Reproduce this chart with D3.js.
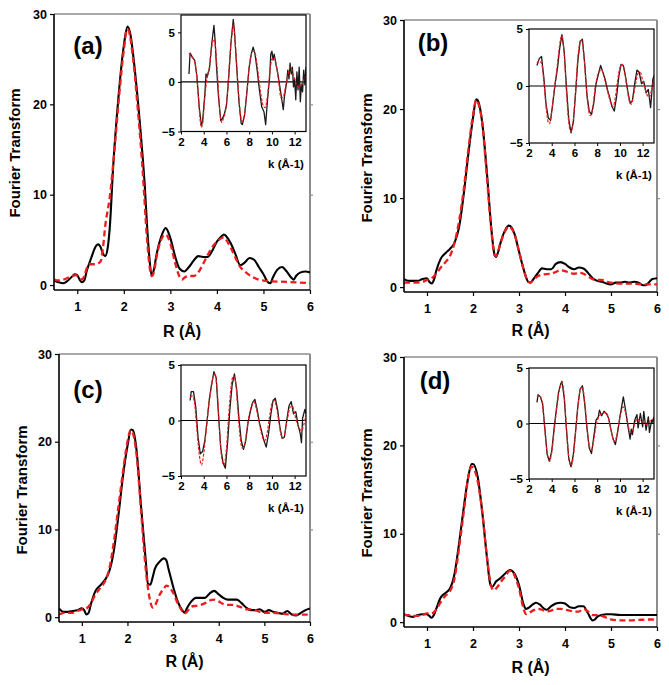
<!DOCTYPE html>
<html><head><meta charset="utf-8">
<script src="https://cdn.jsdelivr.net/npm/d3@7"></script>
<style>
body{margin:0;background:#fff}
svg{display:block}
text{font-family:Arial,"Liberation Sans",sans-serif;font-weight:bold;fill:#000}
</style>
</head><body>
<svg id="chart" width="669" height="685"></svg>
<script>
// ---------------- DATA ----------------
const rTicks = [1,2,3,4,5,6];
const ftTicks = [0,10,20,30];
const kTicks = [2,4,6,8,10,12];
const chiTicks = [-5,0,5];
const panelLabels = ["(a)","(b)","(c)","(d)"];
const xTitle = "R (\u00C5)";
const yTitle = "Fourier Transform";
const kTitle = "k (\u00C5-1)";

// Panel (a) main: experiment (solid black) and fit (dashed red)
const aExpR = [0.5,0.6,0.7,0.8,0.9,0.95,1.0,1.05,1.1,1.15,1.2,1.3,1.4,1.45,1.5,1.55,1.6,1.65,1.7,1.77,1.88,2.0,2.08,2.15,2.2,2.3,2.4,2.45,2.5,2.55,2.6,2.65,2.7,2.8,2.9,3.0,3.1,3.2,3.3,3.4,3.5,3.6,3.7,3.8,3.9,4.0,4.1,4.15,4.2,4.3,4.4,4.5,4.6,4.7,4.8,4.9,5.0,5.1,5.15,5.2,5.3,5.4,5.5,5.6,5.65,5.7,5.8,5.9,6.0];
const aExpY = [0.5,0.3,0.2,0.5,1.0,1.2,1.1,0.6,0.3,0.5,1.5,3.0,4.3,4.5,4.2,3.5,3.2,4.0,6.5,13,20.5,26.5,28.6,27.5,25.5,20.5,14.5,11,6.5,3,1.0,1.8,3.3,5.3,6.3,5.2,3.2,1.8,1.5,2.0,2.7,3.2,3.1,3.1,3.8,4.8,5.4,5.6,5.4,4.6,3.4,2.2,2.5,3.0,2.8,2.0,1.2,0.3,0.2,0.8,1.7,2.0,1.5,0.8,0.6,1.0,1.4,1.5,1.4];
const aFitR = [0.5,0.6,0.7,0.8,0.9,0.97,1.05,1.1,1.15,1.2,1.25,1.3,1.4,1.5,1.55,1.6,1.7,1.8,1.9,2.0,2.07,2.1,2.2,2.3,2.4,2.5,2.55,2.6,2.65,2.7,2.8,2.9,3.0,3.1,3.2,3.25,3.3,3.4,3.5,3.6,3.7,3.8,3.9,4.0,4.1,4.15,4.2,4.3,4.4,4.5,4.6,4.7,4.8,4.9,5.0,5.2,5.5,6.0];
const aFitY = [0.6,0.5,0.6,0.8,1.0,1.1,0.8,0.6,1.0,1.8,2.3,2.3,2.3,2.6,4,6.5,9.8,15,21,26,28.3,28.2,25,19.5,13,5,2.2,1.0,1.5,3,5,5.6,4.6,2.5,0.9,0.6,0.8,1.0,1.0,1.4,2.3,3.3,4.2,4.8,5.2,5.3,5.0,4.1,3.0,2.0,1.5,1.1,0.8,0.6,0.5,0.4,0.35,0.2];

// Panel (b)
const bExpR = [0.5,0.6,0.7,0.8,0.9,1.0,1.05,1.1,1.15,1.2,1.3,1.4,1.5,1.6,1.7,1.8,1.9,2.0,2.07,2.1,2.2,2.3,2.4,2.47,2.5,2.55,2.6,2.7,2.78,2.85,2.9,3.0,3.1,3.2,3.25,3.3,3.4,3.5,3.6,3.7,3.8,3.9,4.0,4.1,4.2,4.3,4.4,4.5,4.6,4.7,4.8,4.9,5.0,5.1,5.2,5.3,5.4,5.5,5.6,5.7,5.75,5.8,5.9,6.0];
const bExpY = [0.9,0.7,0.7,0.7,0.9,1.0,0.6,0.4,0.8,1.8,3.2,3.8,4.3,5.0,6.8,10.5,15,19,21.1,21,18.5,13,6.5,3.6,3.4,4.0,5.0,6.4,6.9,6.6,6,4,2,0.6,0.5,0.8,1.5,2.1,2.0,2.0,2.6,2.8,2.6,2.2,2.0,2.2,2.1,1.6,1.0,0.7,0.6,0.4,0.3,0.5,0.5,0.6,0.5,0.6,0.5,0.2,0.2,0.4,0.9,1.0];
const bFitR = [0.5,0.7,0.9,1.0,1.1,1.2,1.3,1.4,1.5,1.6,1.7,1.8,1.9,2.0,2.07,2.1,2.2,2.3,2.4,2.47,2.5,2.6,2.7,2.78,2.85,2.9,3.0,3.1,3.2,3.25,3.3,3.4,3.5,3.7,3.8,3.9,4.0,4.1,4.2,4.3,4.4,4.5,4.6,4.7,4.8,4.9,5.0,5.2,5.4,5.6,5.8,6.0];
const bFitY = [0.5,0.5,0.6,0.8,1.0,1.5,2.2,2.8,3.5,5.0,7.5,11,15.5,19.3,21,20.8,18.5,12.5,6.3,3.6,3.5,5,6.3,6.8,6.5,6,4,2,0.6,0.5,0.7,1.2,1.4,1.5,1.7,1.9,1.8,1.6,1.5,1.6,1.5,1.2,0.9,0.8,0.8,0.6,0.5,0.4,0.4,0.35,0.3,0.3];

// Panel (c)
const cExpR = [0.5,0.6,0.7,0.8,0.9,1.0,1.05,1.1,1.15,1.2,1.3,1.4,1.5,1.6,1.7,1.8,1.9,2.0,2.08,2.12,2.2,2.3,2.4,2.45,2.5,2.55,2.6,2.7,2.8,2.85,2.9,3.0,3.1,3.2,3.25,3.3,3.4,3.5,3.6,3.7,3.8,3.9,4.0,4.1,4.2,4.3,4.4,4.5,4.6,4.7,4.8,4.9,5.0,5.1,5.2,5.3,5.4,5.5,5.6,5.7,5.8,5.9,6.0];
const cExpY = [1.0,0.6,0.6,0.7,0.8,1.0,0.8,0.3,0.5,1.5,3.0,3.6,4.2,5.2,7.5,11.5,16,19.5,21.4,21.3,19,12.5,6.5,3.8,3.7,4.5,5.5,6.3,6.7,6.5,5.5,3.5,1.8,0.8,0.5,1.0,1.8,2.2,2.2,2.2,2.7,3.0,2.6,2.2,2.0,2.0,2.0,1.6,1.1,0.8,0.8,0.9,0.6,0.8,0.6,0.5,0.4,0.7,0.3,0.2,0.5,0.8,1.0];
const cFitR = [0.5,0.6,0.8,0.9,1.0,1.1,1.2,1.3,1.4,1.5,1.6,1.7,1.8,1.9,2.0,2.07,2.1,2.2,2.3,2.4,2.5,2.55,2.6,2.7,2.8,2.85,2.9,3.0,3.1,3.2,3.25,3.3,3.4,3.5,3.6,3.7,3.8,3.9,4.0,4.1,4.2,4.3,4.4,4.5,4.6,4.7,4.8,4.9,5.0,5.2,5.4,5.6,5.8,6.0];
const cFitY = [0.3,0.5,0.5,0.7,0.9,1.0,1.6,2.6,3.3,4.0,5.5,8.5,12.5,16.5,20,21.3,21.2,18.5,12,5.5,1.8,1.1,1.3,2.5,3.3,3.6,3.5,2.8,1.6,0.7,0.4,0.6,1.2,1.3,1.4,1.6,1.9,2.0,1.8,1.5,1.4,1.4,1.3,1.1,0.9,0.9,0.8,0.6,0.5,0.5,0.4,0.3,0.3,0.3];

// Panel (d)
const dExpR = [0.5,0.6,0.7,0.8,0.9,1.0,1.05,1.1,1.15,1.2,1.3,1.4,1.5,1.6,1.7,1.8,1.9,1.97,2.0,2.1,2.2,2.3,2.38,2.42,2.5,2.6,2.7,2.8,2.9,3.0,3.1,3.15,3.2,3.3,3.37,3.45,3.55,3.6,3.7,3.8,3.9,4.0,4.1,4.2,4.3,4.4,4.5,4.6,4.65,4.7,4.8,4.9,5.0,5.2,5.4,5.6,5.8,5.9,6.0];
const dExpY = [0.9,0.7,0.6,0.8,0.9,0.9,0.7,0.5,0.8,1.5,2.8,3.3,3.8,5.5,9,13,16.5,17.9,17.9,16.5,12.5,7.5,4.2,4.0,4.6,5.0,5.5,5.9,5.5,4.2,2.0,1.5,1.6,2.0,2.2,2.0,1.5,1.4,1.8,2.1,2.2,2.1,1.7,1.6,1.8,1.8,1.0,0.2,0.3,0.6,0.8,0.9,0.9,0.8,0.8,0.8,0.8,0.8,0.8];
const dFitR = [0.5,0.6,0.7,0.8,0.9,1.0,1.1,1.2,1.3,1.4,1.5,1.6,1.7,1.8,1.9,1.97,2.0,2.1,2.2,2.3,2.4,2.45,2.5,2.6,2.7,2.8,2.85,2.9,3.0,3.1,3.15,3.2,3.3,3.4,3.5,3.6,3.7,3.8,3.9,4.0,4.1,4.2,4.3,4.4,4.5,4.6,4.7,4.8,4.9,5.0,5.2,5.4,5.6,5.8,6.0];
const dFitY = [0.8,0.8,0.7,0.7,0.8,1.0,1.0,1.4,2.3,3.0,3.5,5.0,8.5,12.5,16.5,17.6,17.5,16,12.5,7.5,4.0,3.6,3.8,4.5,5.2,5.8,5.8,5.3,3.8,1.5,0.9,1.0,1.3,1.5,1.4,1.2,1.3,1.5,1.5,1.4,1.3,1.2,1.2,1.5,1.2,0.8,0.8,0.7,0.5,0.3,0.2,0.2,0.25,0.3,0.3];

// Insets: k-space EXAFS [k, chi] — experiment (black) and fit (red dashed)
const aKExp = [[2.7,0.8],[2.8,2.9],[3.0,2.5],[3.2,2.2],[3.4,0.6],[3.6,-2.5],[3.8,-4.4],[3.9,-4.0],[4.1,-1.2],[4.2,0.8],[4.3,0.5],[4.5,1.3],[4.7,3.8],[4.9,5.7],[5.0,4.2],[5.1,2.0],[5.3,-1.5],[5.5,-3.9],[5.6,-3.8],[5.8,-3.3],[6.0,-2.4],[6.2,0.5],[6.4,4.0],[6.6,6.3],[6.7,5.2],[6.9,1.5],[7.1,-2.0],[7.3,-4.2],[7.4,-4.3],[7.6,-3.3],[7.8,-1.0],[8.0,1.5],[8.2,2.9],[8.35,3.5],[8.5,2.9],[8.7,1.2],[8.9,-0.8],[9.1,-2.5],[9.3,-3.0],[9.45,-4.3],[9.6,-2.0],[9.8,0.5],[9.9,2.8],[10.0,3.1],[10.1,2.2],[10.2,2.8],[10.35,1.8],[10.5,1.0],[10.7,-0.5],[10.9,-2.0],[11.0,-2.8],[11.1,-1.5],[11.3,0.0],[11.4,1.2],[11.5,0.3],[11.6,1.9],[11.7,0.8],[11.8,1.5],[11.9,-0.5],[12.0,0.3],[12.1,-1.8],[12.2,1.0],[12.3,-0.8],[12.4,1.5],[12.5,-2.0],[12.6,-0.2],[12.7,-1.0],[12.8,1.2],[12.9,-0.3],[13.0,1.5]];
const aKFit = [[2.7,2.9],[2.9,2.6],[3.1,2.3],[3.3,1.5],[3.5,-1.0],[3.7,-4.0],[3.8,-4.6],[3.9,-4.2],[4.1,-1.5],[4.3,0.5],[4.5,1.5],[4.7,3.5],[4.9,4.3],[5.0,3.8],[5.2,1.0],[5.4,-2.8],[5.6,-4.1],[5.7,-3.8],[5.9,-3.0],[6.1,-1.0],[6.3,2.5],[6.5,5.0],[6.6,5.8],[6.8,3.5],[7.0,0.0],[7.2,-3.0],[7.4,-4.0],[7.6,-3.2],[7.8,-1.0],[8.0,1.5],[8.2,2.8],[8.4,3.1],[8.6,2.5],[8.8,0.8],[9.0,-1.0],[9.2,-2.3],[9.4,-2.6],[9.6,-1.5],[9.8,0.8],[10.0,2.3],[10.2,2.5],[10.4,1.6],[10.6,0.0],[10.8,-1.6],[11.0,-1.5],[11.2,-0.5],[11.4,0.6],[11.6,1.5],[11.8,1.0],[12.0,0.3],[12.2,-0.4],[12.4,-0.5],[12.6,-0.3],[12.8,0.2],[13.0,0.6]];

const bKExp = [[2.7,1.8],[2.9,2.4],[3.1,2.6],[3.3,0.8],[3.5,-1.6],[3.7,-2.8],[3.9,-3.0],[4.1,-1.5],[4.3,0.2],[4.5,1.5],[4.7,3.3],[4.9,4.5],[5.1,3.0],[5.3,-0.2],[5.5,-2.9],[5.7,-4.1],[5.9,-3.2],[6.1,-0.6],[6.3,2.2],[6.5,3.9],[6.7,4.1],[6.9,2.0],[7.1,-0.8],[7.3,-2.2],[7.5,-2.5],[7.7,-1.5],[7.9,0.2],[8.1,1.0],[8.3,1.8],[8.5,1.2],[8.7,0.6],[8.9,-0.3],[9.1,-1.0],[9.3,-1.8],[9.5,-2.2],[9.7,-1.0],[9.9,0.8],[10.1,1.9],[10.3,1.8],[10.5,0.8],[10.7,-0.5],[10.9,-1.5],[11.1,-1.3],[11.3,0.2],[11.5,1.4],[11.7,1.2],[11.9,0.2],[12.1,0.4],[12.3,-0.6],[12.5,-0.3],[12.7,-1.9],[12.9,0.6],[13.0,0.9]];
const bKFit = [[2.7,2.0],[2.9,2.2],[3.1,2.0],[3.3,0.5],[3.5,-1.8],[3.7,-3.2],[3.8,-3.3],[4.0,-2.2],[4.2,-0.5],[4.4,1.0],[4.6,2.8],[4.8,4.2],[4.9,4.4],[5.1,2.8],[5.3,-0.5],[5.5,-3.2],[5.7,-4.0],[5.9,-3.0],[6.1,-0.5],[6.3,2.5],[6.5,3.9],[6.6,4.1],[6.8,3.0],[7.0,0.5],[7.2,-1.8],[7.4,-2.6],[7.6,-2.0],[7.8,-0.3],[8.0,0.8],[8.2,1.3],[8.4,1.4],[8.6,0.8],[8.8,0.0],[9.0,-0.8],[9.2,-1.5],[9.4,-1.8],[9.6,-1.0],[9.8,0.5],[10.0,1.6],[10.2,1.9],[10.4,1.3],[10.6,0.0],[10.8,-1.2],[11.0,-1.6],[11.2,-0.8],[11.4,0.3],[11.6,1.1],[11.8,1.2],[12.0,0.5],[12.2,-0.2],[12.4,-0.8],[12.6,-1.0],[12.8,-0.3],[13.0,0.7]];

const cKExp = [[2.8,1.8],[2.9,2.6],[3.1,2.6],[3.3,1.2],[3.5,-1.5],[3.7,-3.0],[3.9,-2.8],[4.1,-1.8],[4.3,0.0],[4.5,2.0],[4.7,3.3],[4.9,4.4],[5.1,3.8],[5.3,0.5],[5.5,-2.5],[5.7,-3.8],[5.9,-4.3],[6.1,-2.0],[6.3,1.0],[6.5,3.2],[6.7,4.2],[6.9,2.8],[7.1,0.2],[7.3,-1.8],[7.5,-2.6],[7.7,-1.8],[7.9,-0.2],[8.1,0.8],[8.3,1.6],[8.5,1.9],[8.7,1.0],[8.9,-0.2],[9.1,-1.0],[9.3,-1.8],[9.5,-2.4],[9.7,-1.2],[9.9,0.5],[10.1,1.8],[10.3,2.0],[10.5,1.0],[10.7,-0.6],[10.9,-1.6],[11.1,-1.5],[11.3,0.0],[11.5,1.3],[11.7,1.7],[11.9,0.6],[12.1,0.8],[12.3,-0.4],[12.5,-1.2],[12.6,-2.0],[12.7,0.2],[12.9,1.0],[13.0,0.6]];
const cKFit = [[2.8,2.1],[3.0,2.2],[3.2,1.5],[3.4,-0.8],[3.6,-3.0],[3.8,-4.0],[4.0,-3.0],[4.2,-1.0],[4.4,1.0],[4.6,2.5],[4.8,3.8],[5.0,4.2],[5.2,2.5],[5.4,-1.0],[5.6,-3.5],[5.8,-4.0],[6.0,-2.5],[6.2,0.5],[6.4,3.0],[6.6,4.0],[6.8,3.5],[7.0,1.0],[7.2,-1.5],[7.4,-2.5],[7.6,-2.2],[7.8,-0.8],[8.0,0.5],[8.2,1.3],[8.4,1.7],[8.6,1.2],[8.8,0.2],[9.0,-0.8],[9.2,-1.6],[9.4,-1.8],[9.6,-1.0],[9.8,0.4],[10.0,1.5],[10.2,1.8],[10.4,1.2],[10.6,0.0],[10.8,-1.3],[11.0,-1.6],[11.2,-0.8],[11.4,0.3],[11.6,1.2],[11.8,1.3],[12.0,0.6],[12.2,-0.2],[12.4,-0.7],[12.6,-0.9],[12.8,-0.4],[13.0,0.5]];

const dKExp = [[2.7,1.9],[2.8,2.6],[3.0,2.4],[3.2,1.8],[3.4,-0.5],[3.6,-2.8],[3.8,-3.4],[4.0,-2.5],[4.2,-0.5],[4.4,1.2],[4.6,2.8],[4.8,3.6],[4.9,3.8],[5.1,2.3],[5.3,-0.6],[5.5,-3.2],[5.7,-3.9],[5.9,-2.8],[6.1,-0.7],[6.3,1.6],[6.5,3.1],[6.7,3.4],[6.9,1.8],[7.1,-0.4],[7.3,-2.2],[7.5,-2.7],[7.7,-1.2],[7.9,0.3],[8.1,0.6],[8.2,1.2],[8.4,0.7],[8.6,1.1],[8.8,0.9],[9.0,0.5],[9.2,-0.5],[9.4,-1.4],[9.6,-1.9],[9.8,-0.8],[10.0,0.6],[10.2,1.8],[10.3,2.4],[10.5,1.2],[10.7,-0.2],[10.9,-1.4],[11.0,-0.5],[11.1,-1.0],[11.3,0.3],[11.5,0.8],[11.6,-0.4],[11.8,0.9],[12.0,-0.3],[12.1,1.1],[12.3,-0.6],[12.5,0.6],[12.6,-0.8],[12.8,0.3],[12.9,0.1],[13.0,0.6]];
const dKFit = [[2.7,2.4],[2.9,2.5],[3.1,2.2],[3.3,0.5],[3.5,-1.8],[3.7,-3.2],[3.8,-3.4],[4.0,-2.6],[4.2,-0.8],[4.4,1.0],[4.6,2.6],[4.8,3.5],[4.9,3.7],[5.1,2.5],[5.3,-0.5],[5.5,-3.0],[5.7,-3.8],[5.9,-3.0],[6.1,-0.8],[6.3,1.5],[6.5,3.0],[6.7,3.3],[6.9,2.0],[7.1,-0.3],[7.3,-2.0],[7.5,-2.4],[7.7,-1.5],[7.9,-0.2],[8.1,0.5],[8.3,0.8],[8.5,0.9],[8.7,1.0],[8.9,0.8],[9.1,0.0],[9.3,-1.0],[9.5,-1.6],[9.7,-1.2],[9.9,0.0],[10.1,1.0],[10.3,1.5],[10.5,1.0],[10.7,0.0],[10.9,-0.8],[11.1,-0.7],[11.3,0.0],[11.5,0.4],[11.7,0.3],[11.9,0.2],[12.1,0.1],[12.3,-0.1],[12.5,0.0],[12.7,0.3],[12.9,0.4],[13.0,0.5]];

// ---------------- LAYOUT ----------------
const panels = [
  {label:panelLabels[0], box:[54,310,14,290],  lab:[88,54],  ytl:[15,153],  xtlY:337, exp:[aExpR,aExpY], fit:[aFitR,aFitY],
   inset:{box:[181,306,15,131.5], ymax:6.75, exp:aKExp, fit:aKFit}},
  {label:panelLabels[1], box:[404,657,20,292], lab:[433,51],  ytl:[367,158], xtlY:336, exp:[bExpR,bExpY], fit:[bFitR,bFitY],
   inset:{box:[529,654,29,143], ymax:5, exp:bKExp, fit:bKFit}},
  {label:panelLabels[2], box:[59,310,354,622], lab:[88,398],  ytl:[22,490],  xtlY:667, exp:[cExpR,cExpY], fit:[cFitR,cFitY],
   inset:{box:[181,306,365,476], ymax:5, exp:cKExp, fit:cKFit}},
  {label:panelLabels[3], box:[404,657,357,627],lab:[435,389], ytl:[367,493], xtlY:673, exp:[dExpR,dExpY], fit:[dFitR,dFitY],
   inset:{box:[529,654,368,479], ymax:5, exp:dKExp, fit:dKFit}}
];

const svg = d3.select("#chart");
const FRAME_GRAY = "#8c8c8c";
const RED = "#ee1c1c";
const fmt = d3.format("d");
const FONT = "Arial, 'Liberation Sans', sans-serif";

panels.forEach((p, i) => {
  const [x0,x1,y0,y1] = p.box;
  const g = svg.append("g");
  const x = d3.scaleLinear().domain([0.5,6]).range([x0,x1]);
  const y = d3.scaleLinear().domain([-0.55,30]).range([y1,y0]);

  // frame: gray top/right
  g.append("line").attr("x1",x0).attr("x2",x1).attr("y1",y0).attr("y2",y0)
    .attr("stroke",FRAME_GRAY).attr("stroke-width",1.5);
  g.append("line").attr("x1",x1).attr("x2",x1).attr("y1",y0).attr("y2",y1)
    .attr("stroke",FRAME_GRAY).attr("stroke-width",2);
  const ra = g.append("g").attr("transform",`translate(${x1},0)`)
    .call(d3.axisRight(y).tickValues([10,20]).tickSize(3).tickSizeOuter(0).tickFormat(""));
  ra.select(".domain").remove();
  ra.selectAll("line").attr("stroke",FRAME_GRAY).attr("stroke-width",1.2);

  // clip
  const cid = "clip"+i;
  svg.append("clipPath").attr("id",cid).append("rect")
    .attr("x",x0).attr("y",y0).attr("width",x1-x0).attr("height",y1-y0);

  const line = d3.line().x(d=>x(d[0])).y(d=>y(d[1])).curve(d3.curveMonotoneX);
  const expPts = p.exp[0].map((r,j)=>[r,p.exp[1][j]]);
  const fitPts = p.fit[0].map((r,j)=>[r,p.fit[1][j]]);
  g.append("path").attr("clip-path",`url(#${cid})`).datum(expPts).attr("d",line)
    .attr("fill","none").attr("stroke","#000").attr("stroke-width",2.1).attr("stroke-linejoin","round");
  g.append("path").attr("clip-path",`url(#${cid})`).datum(fitPts).attr("d",line)
    .attr("fill","none").attr("stroke",RED).attr("stroke-width",2.3).attr("stroke-dasharray","6,3.5");

  // axes
  const la = g.append("g").attr("transform",`translate(${x0},0)`)
    .call(d3.axisLeft(y).tickValues(ftTicks).tickFormat(fmt).tickSize(4).tickSizeOuter(0).tickPadding(3));
  la.select(".domain").attr("stroke","#000").attr("stroke-width",1.6).attr("d",`M0,${y0}V${y1}`);
  la.selectAll(".tick line").attr("stroke","#000").attr("stroke-width",1.2);
  la.selectAll("text").attr("font-size",12.5).attr("font-family",FONT).attr("font-weight","bold");

  const ba = g.append("g").attr("transform",`translate(0,${y1})`)
    .call(d3.axisBottom(x).tickValues(rTicks).tickFormat(fmt).tickSize(4).tickSizeOuter(0).tickPadding(8));
  ba.select(".domain").attr("stroke","#000").attr("stroke-width",1.6).attr("d",`M${x0},0H${x1}`);
  ba.selectAll(".tick line").attr("stroke","#000").attr("stroke-width",1.2);
  ba.selectAll("text").attr("font-size",12.5).attr("font-family",FONT).attr("font-weight","bold");

  // titles
  g.append("text").attr("x",(x0+x1)/2).attr("y",p.xtlY).attr("text-anchor","middle")
    .attr("font-size",16).text(xTitle);
  g.append("text").attr("transform",`translate(${p.ytl[0]+5},${p.ytl[1]}) rotate(-90)`)
    .attr("text-anchor","middle").attr("font-size",15).text(yTitle);
  g.append("text").attr("x",p.lab[0]).attr("y",p.lab[1]).attr("text-anchor","middle")
    .attr("font-size",24).text(p.label);

  // inset
  const ins = p.inset;
  const [ix0,ix1,iy0,iy1] = ins.box;
  const kx = d3.scaleLinear().domain([2,13]).range([ix0,ix1]);
  const ky = d3.scaleLinear().domain([-5,ins.ymax]).range([iy1,iy0]);
  const gi = svg.append("g");
  gi.append("rect").attr("x",ix0).attr("y",iy0).attr("width",ix1-ix0).attr("height",iy1-iy0)
    .attr("fill","#fff");
  const icid = "iclip"+i;
  svg.append("clipPath").attr("id",icid).append("rect")
    .attr("x",ix0).attr("y",iy0).attr("width",ix1-ix0).attr("height",iy1-iy0);
  gi.append("line").attr("x1",ix0).attr("x2",ix1).attr("y1",ky(0)).attr("y2",ky(0))
    .attr("stroke","#000").attr("stroke-width",1.2);
  const kl = d3.line().x(d=>kx(d[0])).y(d=>ky(d[1]));
  gi.append("path").attr("clip-path",`url(#${icid})`).datum(ins.exp).attr("d",kl)
    .attr("fill","none").attr("stroke","#1a1a1a").attr("stroke-width",1.3).attr("stroke-linejoin","round");
  gi.append("path").attr("clip-path",`url(#${icid})`).datum(ins.fit).attr("d",kl.curve(d3.curveMonotoneX))
    .attr("fill","none").attr("stroke",RED).attr("stroke-width",1.2).attr("stroke-dasharray","3,1.5");
  gi.append("rect").attr("x",ix0).attr("y",iy0).attr("width",ix1-ix0).attr("height",iy1-iy0)
    .attr("fill","none").attr("stroke","#000").attr("stroke-width",1.2);

  const il = gi.append("g").attr("transform",`translate(${ix0},0)`)
    .call(d3.axisLeft(ky).tickValues(chiTicks).tickFormat(fmt).tickSize(3).tickSizeOuter(0).tickPadding(3));
  il.select(".domain").remove();
  il.selectAll(".tick line").attr("stroke","#000");
  il.selectAll("text").attr("font-size",11.5).attr("font-family",FONT).attr("font-weight","bold");
  const ib = gi.append("g").attr("transform",`translate(0,${iy1})`)
    .call(d3.axisBottom(kx).tickValues(kTicks).tickFormat(fmt).tickSize(3).tickSizeOuter(0).tickPadding(3));
  ib.select(".domain").remove();
  ib.selectAll(".tick line").attr("stroke","#000");
  ib.selectAll("text").attr("font-size",11.5).attr("font-family",FONT).attr("font-weight","bold");
  gi.append("text").attr("x",ix1-20).attr("y",iy1+36).attr("text-anchor","middle")
    .attr("font-size",11.5).text(kTitle);
});
</script>
</body></html>
